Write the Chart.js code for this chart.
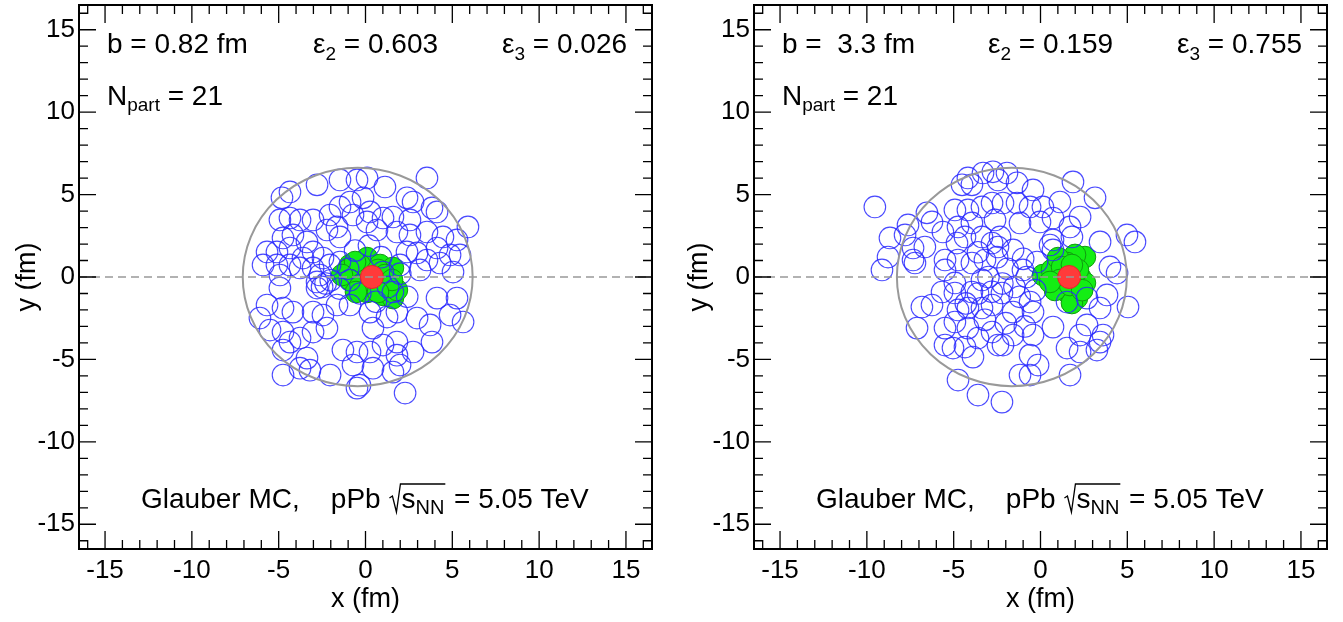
<!DOCTYPE html>
<html>
<head>
<meta charset="utf-8">
<script src="https://cdn.jsdelivr.net/npm/chart.js@4.4.1/dist/chart.umd.min.js"></script>
<style>
  html, body { margin: 0; padding: 0; background: #fff; }
  #wrap { position: relative; width: 1343px; height: 622px; }
  .panel { position: absolute; top: 0; }
</style>
</head>
<body>
<div id="wrap">
  <canvas id="leftChart" class="panel" style="left:0" width="672" height="622"></canvas>
  <canvas id="rightChart" class="panel" style="left:672px" width="671" height="622"></canvas>
</div>
<script>
// axis ticks (fm)
const tickValues = [-15, -10, -5, 0, 5, 10, 15];
const minorValues = [-16, -15, -14, -13, -12, -11, -10, -9, -8, -7, -6, -5, -4, -3, -2, -1, 0,
                     1, 2, 3, 4, 5, 6, 7, 8, 9, 10, 11, 12, 13, 14, 15, 16];
const nucleusRadius = 6.62;

// ---- left event: b = 0.82 fm ----
const leftLabels = ['0.82', '0.603', '0.026', '21'];
const leftNucleusCenter = -0.45;
const leftProton = [[0.37, 0]];
const leftParticipants = [
  [0.09, 1.15], [0.84, 0.73], [1.58, 0.55], [-0.32, 0.73], [-0.89, 0.73], [-0.60, 0.12],
  [0.09, -0.91], [1.01, -1.09], [1.58, -1.28], [1.81, -0.79], [-1.0, 0.43], [-0.6, 0.91],
  [-0.89, -0.18], [-0.32, -0.49], [0.72, 0.43], [1.12, 0.12], [1.53, -0.18], [0.72, -0.91],
  [-0.55, -0.91], [-1.35, 0.12]
];
const leftNucleons = [
  [-4.35, 5.16], [-4.81, 4.80], [-2.79, 5.59], [-1.47, 5.89], [-0.49, 5.89], [-4.93, 3.46],
  [-4.35, 3.58], [-3.77, 3.46], [-3.02, 3.46], [-2.04, 3.76], [-1.47, 4.25], [-0.89, 4.55],
  [-0.72, 3.76], [-1.64, 3.04], [-2.22, 2.85], [-1.47, 2.43], [-3.37, 2.13], [-4.18, 2.55],
  [-4.75, 2.37], [-5.67, 1.52], [-5.10, 1.52], [-4.35, 1.76], [-3.60, 1.15], [-3.02, 1.52],
  [-5.90, 0.73], [-5.10, 0.73], [-4.35, 0.73], [-3.77, 0.55], [-3.02, 0.55], [-2.62, 0.12],
  [-2.04, 0.73], [-1.47, 0.91], [-2.45, 1.15], [-4.93, 0.12], [-2.79, -0.30],
  [3.54, 6.01], [1.12, 5.46], [0.09, 6.01], [2.39, 4.80], [2.74, 4.55], [3.83, 4.19],
  [4.12, 3.95], [5.90, 3.04], [1.01, 3.58], [1.58, 3.64], [2.56, 3.46], [0.26, 3.95],
  [0.66, 2.85], [1.81, 2.73], [2.56, 2.55], [3.54, 2.73], [4.46, 2.43], [5.27, 2.25],
  [4.12, 1.76], [2.39, 1.52], [2.97, 1.46], [4.87, 1.34], [5.44, 1.34], [3.54, 1.03],
  [4.29, 0.85], [1.99, 0.73], [3.14, 0.43], [5.04, 0.30], [-0.14, 4.80], [0.09, 3.34],
  [-5.67, -1.70], [-4.75, -1.88], [-4.18, -2.13], [-3.02, -2.13], [-2.45, -2.31], [-1.64, -1.70],
  [-0.89, -1.70], [-5.50, -3.22], [-4.75, -3.34], [-4.35, -3.95], [-4.75, -4.43], [-3.77, -3.70],
  [-3.02, -3.34], [-2.22, -3.10], [-3.37, -4.92], [-3.77, -5.53], [-4.75, -5.95], [-3.20, -5.65],
  [-2.04, -5.95], [-1.30, -4.43], [-0.49, -4.55], [-0.49, -6.74], [-6.08, -2.49], [-2.79, -0.67],
  [-4.93, -0.67], [-0.72, -5.34],
  [1.58, -0.91], [0.26, -2.13], [1.24, -2.43], [1.81, -2.13], [2.97, -2.49], [4.12, -1.28],
  [5.27, -1.28], [4.87, -2.31], [3.72, -2.91], [3.83, -3.95], [0.43, -3.10], [0.26, -4.55],
  [1.01, -4.13], [1.81, -3.95], [2.74, -4.55], [1.81, -4.74], [0.43, -5.53], [1.58, -5.77],
  [2.28, -7.04], [-0.32, -6.56], [5.62, -2.73], [1.99, -5.34],
  [-0.6, 1.6], [0.2, 1.9], [-1.0, 0.5], [-0.3, -1.0], [0.6, -1.5], [1.3, -0.6], [2.0, 0.2],
  [-1.5, -0.7], [0.9, 1.2], [-0.9, -0.2], [2.4, -1.2], [1.0, 0.3], [-2.5, -0.6], [-2.3, -0.4],
  [-2.0, -0.2]
];

// ---- right event: b = 3.3 fm ----
const rightLabels = [' 3.3', '0.159', '0.755', '21'];
const rightNucleusCenter = -1.65;
const rightProton = [[1.65, 0]];
const rightParticipants = [
  [2.56, 1.21], [1.99, 1.34], [1.53, 0.85], [0.14, 0.12], [0.66, 0.43], [2.28, 0.0],
  [2.56, -0.36], [1.53, -0.91], [2.10, -1.28], [1.81, -1.58], [1.01, 1.15], [1.24, 0.60],
  [0.83, -0.30], [1.12, -0.18], [0.83, -0.79], [1.70, -0.49], [2.16, 0.43], [1.81, 0.73],
  [0.55, -0.30], [2.40, -0.80]
];
const rightNucleons = [
  [-9.54, 4.25], [-8.67, 2.37], [-7.80, 2.55], [-7.63, 3.16], [-6.54, 3.89], [-6.25, 3.34],
  [-8.78, 1.21], [-9.13, 0.43], [-7.34, 1.76], [-7.34, 1.03], [-7.23, 0.85], [-6.66, 1.82],
  [-5.62, 2.73], [-5.50, 1.03], [-4.81, 2.06], [-4.93, 4.07], [-4.75, 3.04], [-4.52, 5.59],
  [-4.18, 6.01], [-3.95, 5.59], [-3.31, 6.31], [-2.74, 6.38], [-2.45, 5.89], [-3.37, 4.25],
  [-2.79, 4.49], [-4.18, 4.07], [-3.95, 3.28], [-4.35, 2.43], [-3.37, 2.43], [-2.79, 2.06],
  [-5.50, 0.43], [-4.75, 1.03], [-3.95, 0.85], [-3.20, 1.03], [-2.62, 3.46], [-4.93, -0.36],
  [-3.37, -0.18], [-2.45, 1.82],
  [-1.93, 6.31], [-1.35, 5.71], [-0.43, 5.28], [1.87, 5.77], [3.14, 4.80], [-2.16, 4.49],
  [-1.35, 4.49], [-0.60, 4.25], [0.14, 4.25], [1.12, 4.55], [2.28, 3.64], [-1.18, 3.28],
  [-0.03, 3.34], [0.72, 3.58], [-2.33, 2.43], [-1.58, 1.64], [0.55, 1.94], [0.72, 2.25],
  [1.81, 2.43], [3.43, 2.13], [4.98, 2.55], [5.44, 2.13], [-0.20, 0.91], [-1.01, 0.43],
  [4.00, 0.61], [4.41, 0.24], [1.70, 3.04], [0.72, 1.64],
  [-7.11, -3.10], [-6.83, -1.82], [-6.25, -1.70], [-5.50, -3.10], [-5.50, -4.13], [-5.04, -4.31],
  [-4.35, -4.25], [-3.89, -4.86], [-4.18, -3.10], [-4.93, -2.73], [-5.67, -0.91], [-4.75, -2.00],
  [-4.18, -1.88], [-3.37, -1.88], [-2.79, -1.70], [-4.93, -0.97], [-3.95, -0.91], [-4.75, -6.25],
  [-3.60, -7.16], [-2.22, -7.59], [-2.45, -4.13], [-2.79, -3.34], [-3.60, -3.70], [-2.22, -0.97],
  [-1.18, -5.95], [-0.60, -5.95], [-0.14, -5.34], [1.70, -5.95], [-0.60, -4.74], [-0.43, -3.52],
  [0.72, -3.04], [1.53, -4.31], [2.28, -4.55], [2.28, -3.52], [3.25, -4.43], [3.43, -3.95],
  [3.60, -3.52], [2.68, -2.91], [3.43, -1.88], [5.04, -1.82], [3.83, -1.09], [1.53, -1.52],
  [-1.58, -2.13], [-1.58, -3.52], [-0.43, -2.13], [-2.16, -4.13], [-0.60, -1.52], [2.68, -1.28],
  [-3.0, 0.0], [-2.2, -0.4], [-1.5, -0.6], [-0.8, 0.0], [-1.9, 0.5], [-2.8, -0.9], [-1.2, -1.2],
  [-3.6, -1.0], [-0.3, -0.8], [-2.5, 1.2], [-3.6, 1.5], [-1.0, 1.1], [-4.3, -1.6], [-3.2, -2.6],
  [-2.0, -2.8], [-0.9, -3.0]
];

const FONT = '"Liberation Sans", Arial, Helvetica, sans-serif';

function txt(ctx, s, x, y, size) {
  ctx.font = size + 'px ' + FONT;
  ctx.fillText(s, x, y);
  return ctx.measureText(s).width;
}

// nucleus outline + dashed y=0 line, drawn over the markers
const overlayPlugin = {
  id: 'overlay',
  afterDatasetsDraw(chart) {
    const { ctx, chartArea: a, scales: { x, y } } = chart;
    const c = chart.options.plugins.overlay.center;
    const cx = x.getPixelForValue(c), cy = y.getPixelForValue(0);
    const rx = x.getPixelForValue(c + nucleusRadius) - cx;
    const ry = cy - y.getPixelForValue(nucleusRadius);
    ctx.save();
    ctx.strokeStyle = '#999';
    ctx.lineWidth = 2;
    ctx.beginPath();
    ctx.ellipse(cx, cy, rx, ry, 0, 0, Math.PI * 2);
    ctx.stroke();
    ctx.setLineDash([8, 5]);
    ctx.lineWidth = 1.5;
    ctx.beginPath();
    ctx.moveTo(a.left, cy);
    ctx.lineTo(a.right, cy);
    ctx.stroke();
    ctx.restore();
  }
};

// ROOT style frame: inner ticks on all four sides + the event labels
const framePlugin = {
  id: 'frame',
  afterDraw(chart) {
    const { ctx, chartArea: a, scales: { x, y } } = chart;
    const lab = chart.options.plugins.frame.labels;
    ctx.save();
    ctx.strokeStyle = '#000';
    ctx.lineWidth = 1.3;
    ctx.beginPath();
    minorValues.forEach(v => {
      const major = tickValues.includes(v);
      const px = x.getPixelForValue(v);
      const lx = major ? 18 : 9;
      ctx.moveTo(px, a.bottom); ctx.lineTo(px, a.bottom - lx);
      ctx.moveTo(px, a.top); ctx.lineTo(px, a.top + lx);
      const py = y.getPixelForValue(v);
      const ly = major ? 17 : 9;
      ctx.moveTo(a.left, py); ctx.lineTo(a.left + ly, py);
      ctx.moveTo(a.right, py); ctx.lineTo(a.right - ly, py);
    });
    ctx.stroke();
    ctx.lineWidth = 2;
    ctx.strokeRect(a.left, a.top, a.right - a.left, a.bottom - a.top);

    ctx.fillStyle = '#000';
    ctx.textBaseline = 'alphabetic';
    ctx.textAlign = 'left';
    const x0 = a.left;
    txt(ctx, 'b = ' + lab[0] + ' fm', x0 + 28, 53, 28);
    let cx = x0 + 234;
    cx += txt(ctx, 'ε', cx, 53, 28);
    cx += txt(ctx, '2', cx, 60, 19);
    txt(ctx, ' = ' + lab[1], cx, 53, 28);
    cx = x0 + 423;
    cx += txt(ctx, 'ε', cx, 53, 28);
    cx += txt(ctx, '3', cx, 60, 19);
    txt(ctx, ' = ' + lab[2], cx, 53, 28);
    cx = x0 + 28;
    cx += txt(ctx, 'N', cx, 105, 28);
    cx += txt(ctx, 'part', cx, 111, 19);
    txt(ctx, ' = ' + lab[3], cx, 105, 28);

    // Glauber MC,   pPb sqrt(s_NN) = 5.05 TeV
    const by = 508;
    cx = x0 + 62;
    cx += txt(ctx, 'Glauber MC,    pPb ', cx, by, 28);
    const r = cx + 1;
    cx = r + 12;
    cx += txt(ctx, 's', cx, by, 28);
    cx += txt(ctx, 'NN', cx, by + 6, 20);
    ctx.lineWidth = 1.3;
    ctx.beginPath();
    ctx.moveTo(r, 498); ctx.lineTo(r + 3, 496); ctx.lineTo(r + 7, 512);
    ctx.lineTo(r + 11, 484); ctx.lineTo(cx + 1, 484);
    ctx.stroke();
    txt(ctx, ' = 5.05 TeV', cx + 2, by, 28);
    ctx.restore();
  }
};

function makePanel(id, frameLeft, frameRight, width, nucleons, participants, proton, center, labels) {
  return new Chart(document.getElementById(id), {
    type: 'scatter',
    data: {
      datasets: [
        { data: proton.map(p => ({ x: p[0], y: p[1] })),
          pointRadius: 11.5, backgroundColor: '#ff3a3a', borderColor: '#e02828', borderWidth: 1 },
        { data: nucleons.map(p => ({ x: p[0], y: p[1] })),
          pointRadius: 10.8, backgroundColor: 'rgba(0,0,0,0)', borderColor: 'rgba(40,40,255,0.85)', borderWidth: 1.1 },
        { data: participants.map(p => ({ x: p[0], y: p[1] })),
          pointRadius: 10.8, backgroundColor: '#14ee14', borderColor: '#109a10', borderWidth: 1 }
      ]
    },
    options: {
      responsive: false,
      animation: false,
      events: [],
      layout: { autoPadding: false, padding: { left: 0, top: 5, right: width - frameRight, bottom: 0 } },
      plugins: {
        legend: { display: false },
        tooltip: { enabled: false },
        overlay: { center: center },
        frame: { labels: labels }
      },
      scales: {
        x: {
          type: 'linear', min: -16.5, max: 16.5,
          afterFit: s => { s.height = 73; s.paddingLeft = 0; s.paddingRight = 0; },
          afterBuildTicks: s => { s.ticks = tickValues.map(v => ({ value: v })); },
          grid: { display: false, drawTicks: false },
          border: { display: false },
          ticks: { color: '#000', font: { family: FONT, size: 26 }, padding: 6, maxRotation: 0, autoSkip: false },
          title: { display: true, text: 'x (fm)', color: '#000', font: { family: FONT, size: 27 }, padding: { top: 0, bottom: 6 } }
        },
        y: {
          type: 'linear', min: -16.5, max: 16.5,
          afterFit: s => { s.width = frameLeft; s.paddingTop = 0; s.paddingBottom = 0; },
          afterBuildTicks: s => { s.ticks = tickValues.map(v => ({ value: v })); },
          grid: { display: false, drawTicks: false },
          border: { display: false },
          ticks: { color: '#000', font: { family: FONT, size: 26 }, padding: 4, autoSkip: false },
          title: { display: true, text: 'y (fm)', color: '#000', font: { family: FONT, size: 27 }, padding: { top: 11, bottom: 0 } }
        }
      }
    },
    plugins: [overlayPlugin, framePlugin]
  });
}

makePanel('leftChart', 79, 652, 672, leftNucleons, leftParticipants, leftProton, leftNucleusCenter, leftLabels);
makePanel('rightChart', 82, 655, 671, rightNucleons, rightParticipants, rightProton, rightNucleusCenter, rightLabels);
</script>
</body>
</html>
